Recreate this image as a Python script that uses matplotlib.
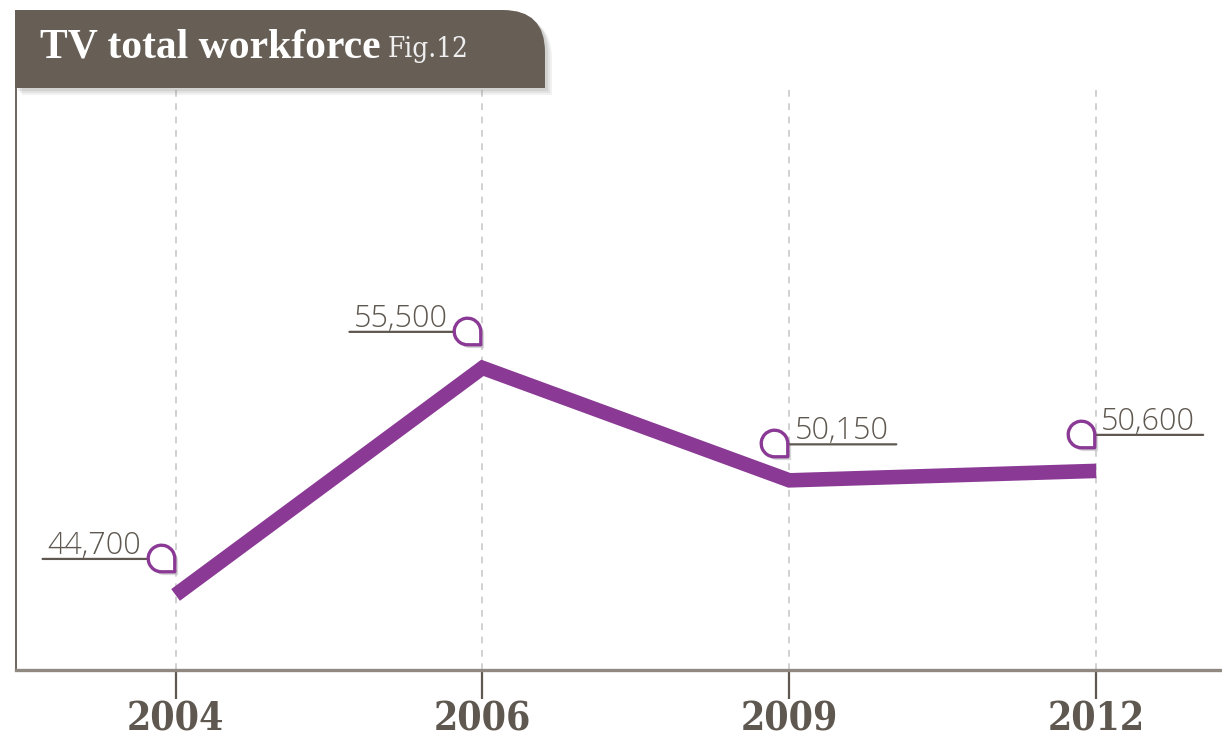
import matplotlib
matplotlib.use("Agg")
import matplotlib.pyplot as plt
from matplotlib.path import Path
from matplotlib.patches import PathPatch
from matplotlib.transforms import offset_copy
from matplotlib.markers import MarkerStyle
from matplotlib.font_manager import FontProperties

years = ["2004", "2006", "2009", "2012"]
workforce = [44700, 55500, 50150, 50600]
value_labels = ["44,700", "55,500", "50,150", "50,600"]
label_side = ["left", "left", "right", "right"]

title = "TV total workforce"
fig_tag = "Fig.12"

W, H = 1222, 739
fig = plt.figure(figsize=(W / 100, H / 100), dpi=100)

def fx(x):
    return x / W

def fy(y):
    return 1 - y / H

PURPLE = "#8a3a95"
BROWN = "#675f56"
TEXT = "#5f5850"

tick_fp = FontProperties(family="DejaVu Serif", stretch="condensed", weight="bold", size=28)
val_fp = FontProperties(family="Open Sans", stretch="normal", weight=300, size=22)
title_fp = FontProperties(family="Liberation Serif", weight="bold", size=30)
tag_fp = FontProperties(family="DejaVu Serif", stretch="condensed", weight="normal", size=20)

ax = fig.add_axes([fx(16), fy(670), fx(1222) - fx(16), fy(84) - fy(670)])
ax.set_xlim(-0.52, 3.41)
ax.set_ylim(41130, 69000)
xs = list(range(len(years)))

for x in xs:
    ax.axvline(x, color="#c9c9c9", lw=1.2, dashes=(4, 4), zorder=1)

ax.plot(xs, workforce, color=PURPLE, lw=10.5, solid_joinstyle="miter",
        solid_capstyle="butt", zorder=3)

arc = Path.arc(0, 270)
verts = list(arc.vertices) + [(1, -1), (1, 0)]
codes = list(arc.codes) + [Path.LINETO, Path.LINETO]
bubble = Path(verts, codes)
mk = MarkerStyle(bubble)

for x, v, lab, side in zip(xs, workforce, value_labels, label_side):
    cx, cy = -15, 37
    sh = offset_copy(ax.transData, fig, cx + 3, cy - 3, units="dots")
    ax.plot([x], [v], marker=mk, ms=20, mfc="#bdbdbd", mec="none",
            alpha=0.6, transform=sh, zorder=4, clip_on=False)
    tr = offset_copy(ax.transData, fig, cx, cy, units="dots")
    ax.plot([x], [v], marker=mk, ms=19.5, mfc="white", mec=PURPLE,
            mew=2.4, transform=tr, zorder=5, clip_on=False)
    if side == "left":
        a, b = cx - 14, cx - 118
        tx, ha = cx - 20, "right"
    else:
        a, b = cx + 14, cx + 122
        tx, ha = cx + 20, "left"
    ax.annotate("", xy=(x, v), xycoords=offset_copy(ax.transData, fig, a, cy - 1, units="dots"),
                xytext=(x, v), textcoords=offset_copy(ax.transData, fig, b, cy - 1, units="dots"),
                arrowprops=dict(arrowstyle="-", color=TEXT, lw=1.6, shrinkA=0, shrinkB=0),
                zorder=4, annotation_clip=False)
    ax.text(x, v, lab, transform=offset_copy(ax.transData, fig, tx, cy + 4, units="dots"),
            ha=ha, va="baseline", fontproperties=val_fp, color=TEXT, zorder=5)

ax.set_xticks(xs)
ax.set_xticklabels(years, fontproperties=tick_fp, color=TEXT)
ax.set_yticks([])
ax.tick_params(axis="x", direction="out", length=21, width=1.6, color=TEXT, pad=1)
for s in ("top", "right"):
    ax.spines[s].set_visible(False)
ax.spines["bottom"].set_color("#8f8982")
ax.spines["bottom"].set_linewidth(2.4)
ax.spines["left"].set_color("#6b645c")
ax.spines["left"].set_linewidth(1.4)

def box_path(dx=0, dy=0):
    L, R, T, B, r = 15 + dx, 545 + dx, 10 + dy, 88 + dy, 42
    pts = [(L, B), (L, T), (R - r, T), (R, T), (R, T + r), (R, B), (L, B)]
    cds = [Path.MOVETO, Path.LINETO, Path.LINETO, Path.CURVE3, Path.CURVE3,
           Path.LINETO, Path.CLOSEPOLY]
    return Path([(fx(px), fy(py)) for px, py in pts], cds)

for i, al in enumerate([0.10, 0.12, 0.15]):
    d = 7 - 2 * i
    fig.patches.append(PathPatch(box_path(d, d), transform=fig.transFigure,
                                 facecolor="#7d7a76", edgecolor="none", alpha=al, zorder=9))
fig.patches.append(PathPatch(box_path(), transform=fig.transFigure,
                             facecolor=BROWN, edgecolor="none", zorder=10))

fig.text(fx(40), fy(57), title, color="white", fontproperties=title_fp,
         ha="left", va="baseline", zorder=11)
fig.text(fx(388), fy(57), fig_tag, color="#efefef", fontproperties=tag_fp,
         ha="left", va="baseline", zorder=11)

fig.savefig("out.png", dpi=100)
